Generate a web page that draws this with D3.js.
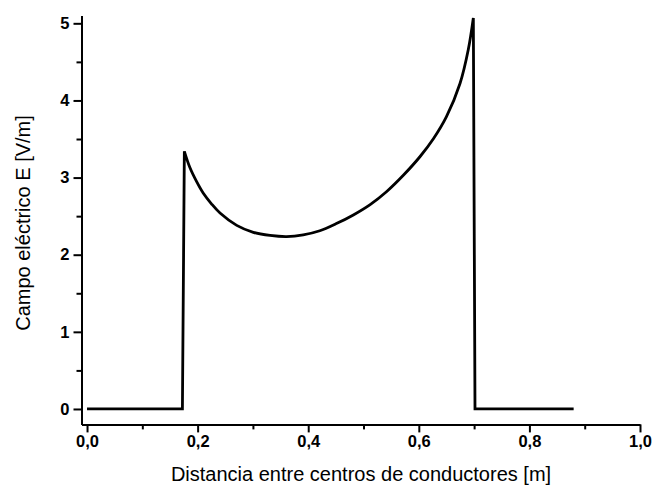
<!DOCTYPE html>
<html><head><meta charset="utf-8">
<script src="https://cdn.jsdelivr.net/npm/d3@7"></script>
<style>
body{margin:0;background:#fff;}
svg{display:block;}
</style></head>
<body>
<svg id="chart" width="652" height="493"></svg>
<script>
const distance = [0, 0.1725, 0.176, 0.186, 0.198, 0.210, 0.225, 0.2405, 0.2707, 0.3007, 0.331, 0.361, 0.391, 0.421, 0.45, 0.4816, 0.512, 0.542, 0.572, 0.602, 0.627, 0.650, 0.6745, 0.6895, 0.6986, 0.7016, 0.88];
const field    = [0, 0, 3.34, 3.13, 2.95, 2.80, 2.66, 2.54, 2.38, 2.29, 2.25, 2.235, 2.257, 2.31, 2.40, 2.516, 2.65, 2.82, 3.03, 3.27, 3.51, 3.79, 4.22, 4.66, 5.07, 0, 0];
const xMajorTicks = [0, 0.2, 0.4, 0.6, 0.8, 1.0];
const xMinorTicks = [0.1, 0.3, 0.5, 0.7, 0.9];
const yMajorTicks = [0, 1, 2, 3, 4, 5];
const yMinorTicks = [0.5, 1.5, 2.5, 3.5, 4.5];
const xTitle = "Distancia entre centros de conductores [m]";
const yTitle = "Campo eléctrico E [V/m]";

const svg = d3.select("#chart");
const x = d3.scaleLinear().domain([-0.01, 1.0]).range([81.5, 640]);
const y = d3.scaleLinear().domain([-0.2, 5.1]).range([424.4, 15.6]);
const fmt = d => d3.format(".1f")(d).replace(".", ",");
const font = "Arial, 'Liberation Sans', sans-serif";

// X axis
const xAxisG = svg.append("g").attr("transform", `translate(0,${y.range()[0]})`);
xAxisG.call(d3.axisBottom(x).tickValues(xMajorTicks).tickFormat(fmt).tickSize(8).tickSizeOuter(0).tickPadding(3));
xAxisG.append("g").call(d3.axisBottom(x).tickValues(xMinorTicks).tickFormat("").tickSize(5).tickSizeOuter(0))
  .select(".domain").remove();
// Y axis
const yAxisG = svg.append("g").attr("transform", `translate(${x.range()[0]},0)`);
yAxisG.call(d3.axisLeft(y).tickValues(yMajorTicks).tickFormat(d3.format("d")).tickSize(8).tickSizeOuter(0).tickPadding(4));
yAxisG.append("g").call(d3.axisLeft(y).tickValues(yMinorTicks).tickFormat("").tickSize(5).tickSizeOuter(0))
  .select(".domain").remove();

svg.selectAll(".domain").attr("stroke", "#000").attr("stroke-width", 2);
svg.selectAll(".tick line").attr("stroke", "#000").attr("stroke-width", 2);
svg.selectAll(".tick text").attr("font-family", font).attr("font-size", 16.5).attr("font-weight", "bold").attr("fill", "#000");

// Curve: straight jumps, smooth middle section
const pts = distance.map((d, i) => [d, field[i]]);
const lin = d3.line().x(d => x(d[0])).y(d => y(d[1]));
const smooth = d3.line().x(d => x(d[0])).y(d => y(d[1])).curve(d3.curveCatmullRom.alpha(0.5));
const n = pts.length;
const dPath = lin(pts.slice(0, 3)) +
  smooth(pts.slice(2, n - 2)).replace(/^M/, "L") +
  lin(pts.slice(n - 3)).replace(/^M/, "L");
svg.append("path")
  .attr("fill", "none").attr("stroke", "#000").attr("stroke-width", 2.8)
  .attr("stroke-linejoin", "miter").attr("stroke-miterlimit", 3)
  .attr("d", dPath);

// Titles
svg.append("text").attr("x", 361).attr("y", 481).attr("text-anchor", "middle")
  .attr("font-family", font).attr("font-size", 20).attr("fill", "#000").text(xTitle);
svg.append("text").attr("transform", "translate(30,223) rotate(-90)").attr("text-anchor", "middle")
  .attr("font-family", font).attr("font-size", 20).attr("fill", "#000").text(yTitle);
</script>
</body></html>
